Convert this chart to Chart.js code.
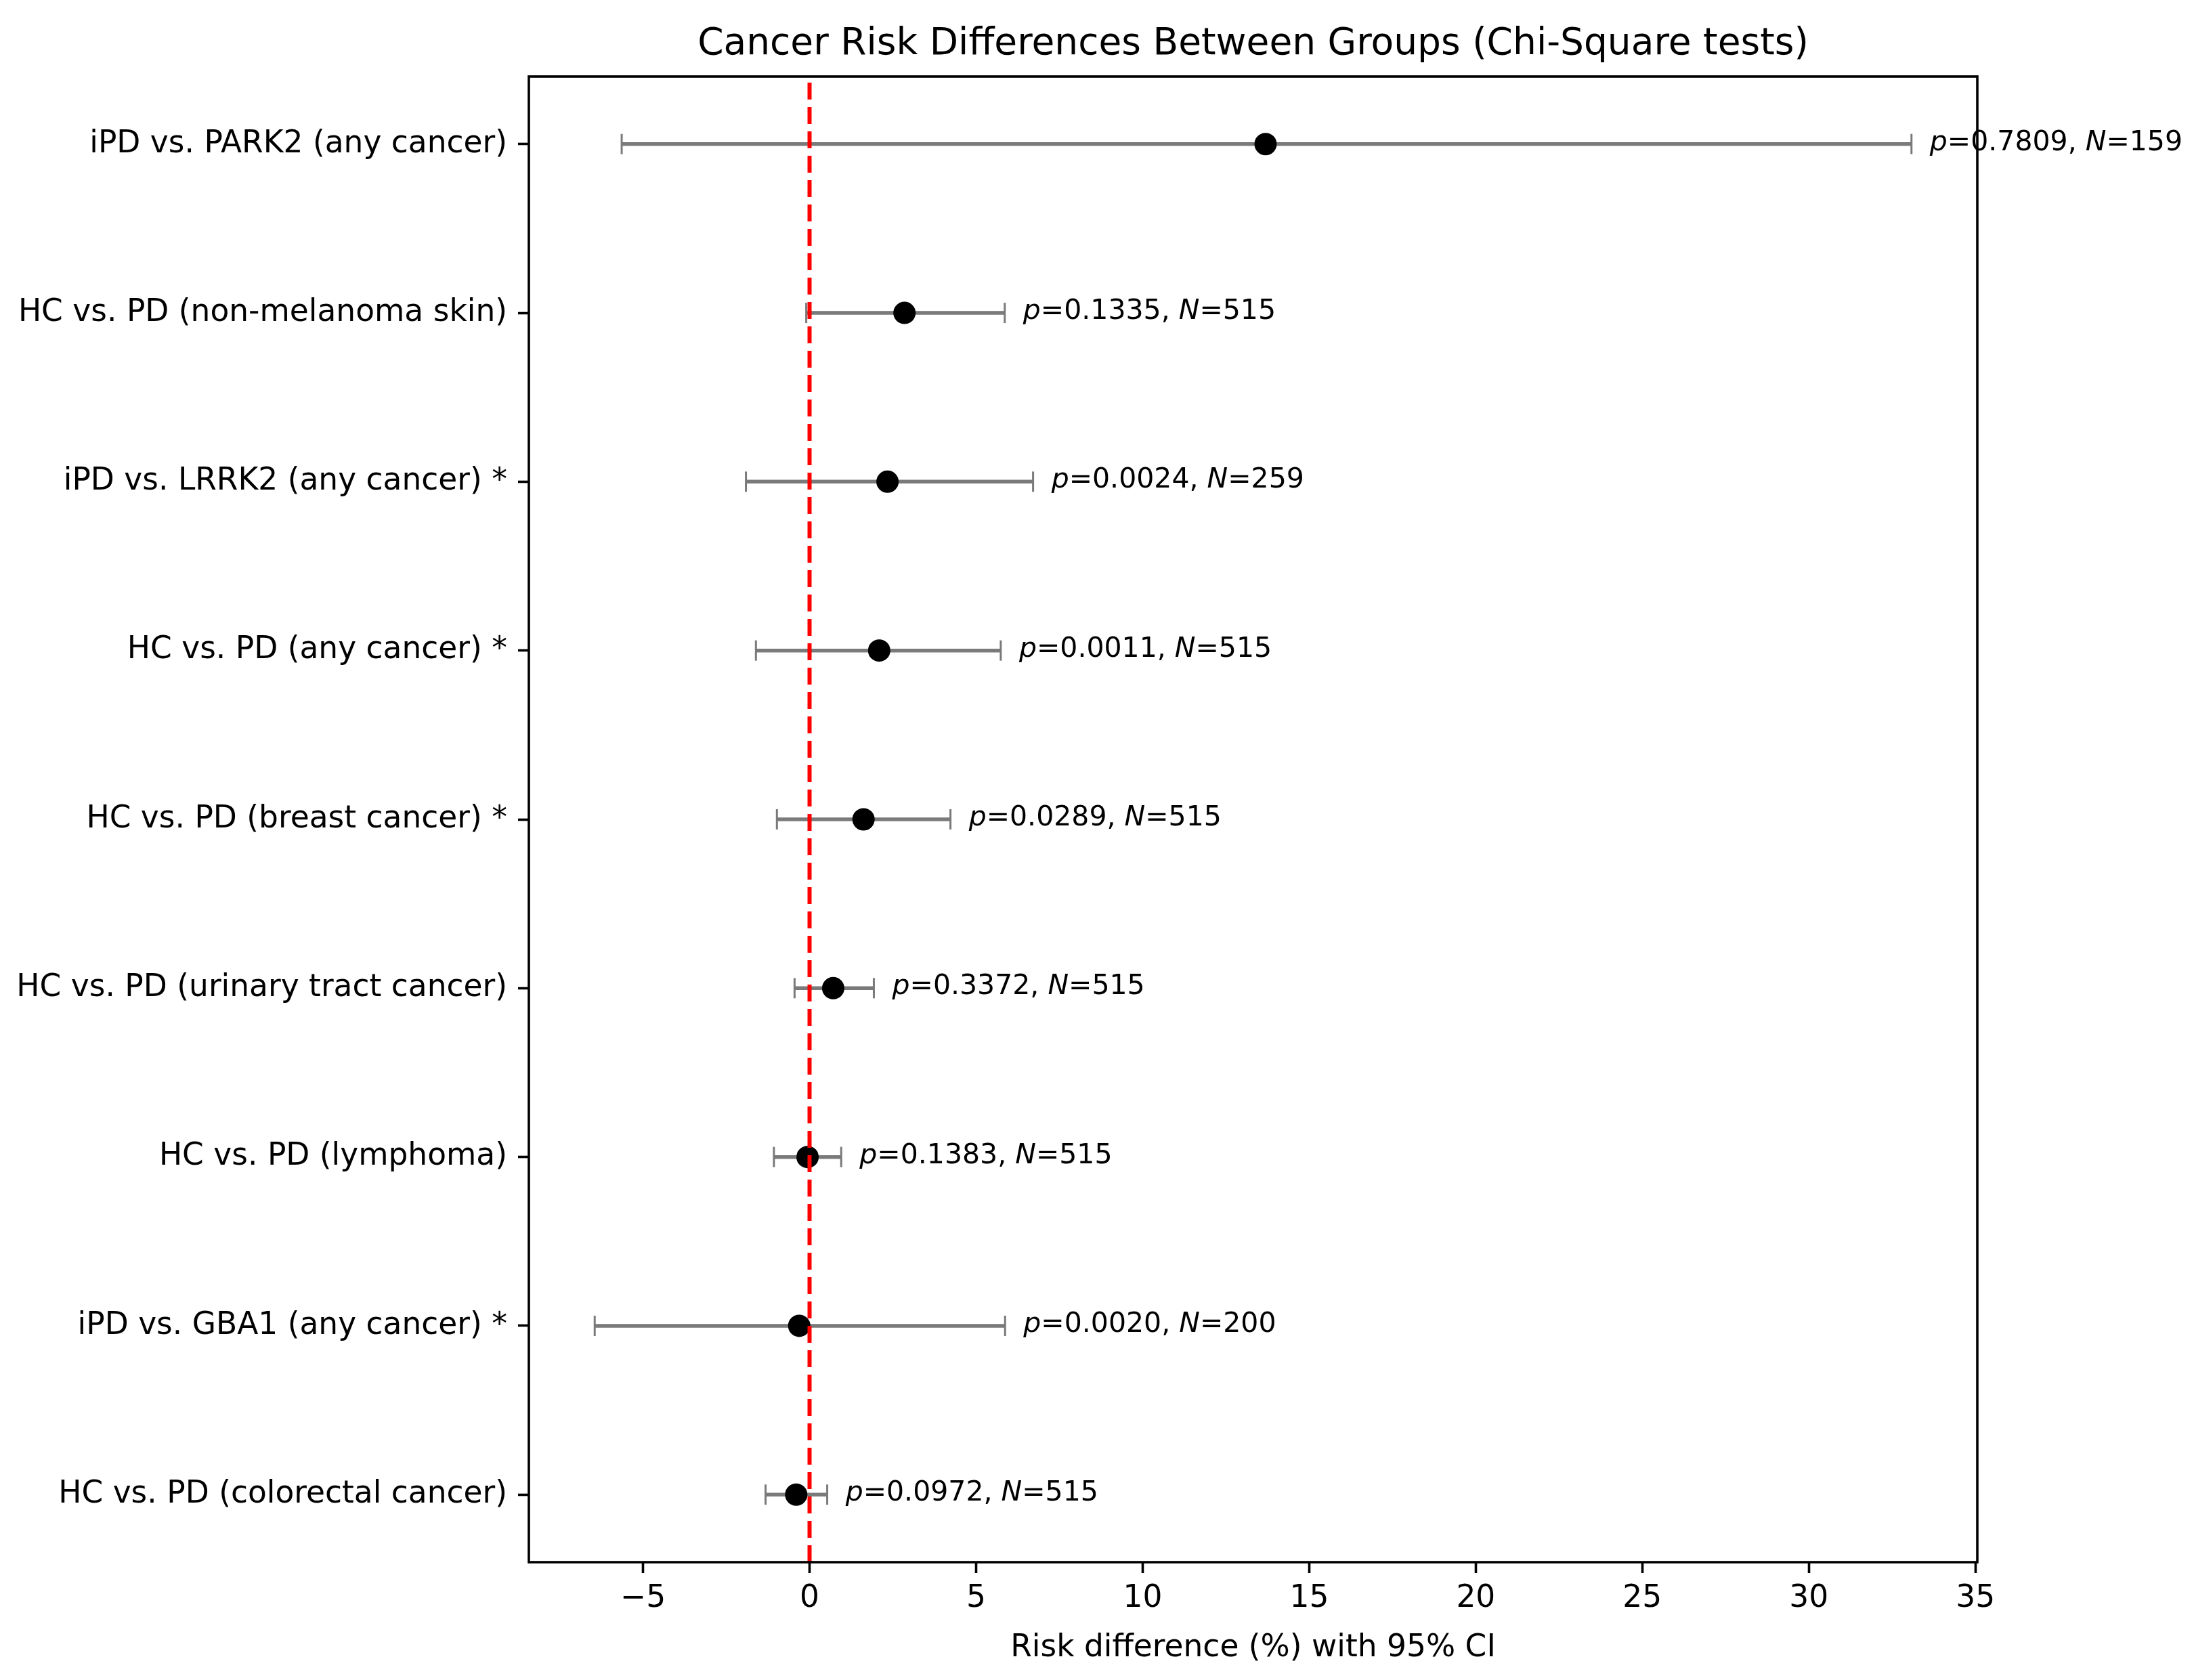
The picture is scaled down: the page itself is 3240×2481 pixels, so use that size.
<!DOCTYPE html>
<html>
<head>
<meta charset="utf-8">
<script src="https://cdn.jsdelivr.net/npm/chart.js@4.4.1/dist/chart.umd.min.js"></script>
<style>
  html, body { margin: 0; padding: 0; background: #ffffff; }
  #wrap { width: 3240px; height: 2481px; }
</style>
</head>
<body>
<div id="wrap"><canvas id="chart-forest" width="3240" height="2481"></canvas></div>
<script>
// comparisons, top to bottom
const labels = [
  'iPD vs. PARK2 (any cancer)',
  'HC vs. PD (non-melanoma skin)',
  'iPD vs. LRRK2 (any cancer) *',
  'HC vs. PD (any cancer) *',
  'HC vs. PD (breast cancer) *',
  'HC vs. PD (urinary tract cancer)',
  'HC vs. PD (lymphoma)',
  'iPD vs. GBA1 (any cancer) *',
  'HC vs. PD (colorectal cancer)',
];
const riskDiff = [13.69, 2.85, 2.34, 2.09, 1.62, 0.71, -0.06, -0.31, -0.40];
const ciLower = [-5.64, -0.10, -1.91, -1.61, -0.98, -0.45, -1.07, -6.45, -1.32];
const ciUpper = [33.08, 5.86, 6.71, 5.74, 4.23, 1.93, 0.95, 5.87, 0.53];
const pValues = ['0.7809', '0.1335', '0.0024', '0.0011', '0.0289', '0.3372', '0.1383', '0.0020', '0.0972'];
const sampleN = [159, 515, 259, 515, 515, 515, 515, 200, 515];

const xTicks = [-5, 0, 5, 10, 15, 20, 25, 30, 35];
const xTickLabels = ['\u22125', '0', '5', '10', '15', '20', '25', '30', '35'];
const refLine = 0;

const FONT = '"DejaVu Sans", sans-serif';

// matplotlib-like 5% margins around the CI range
const lo = Math.min(...ciLower);
const hi = Math.max(...ciUpper);
const xMargin = (hi - lo) * 0.05;

// one little line dataset per CI (caps are rotated 'line' points)
const ciDatasets = labels.map((name, i) => ({
  label: name,
  data: [{ x: ciLower[i], y: i }, { x: ciUpper[i], y: i }],
  showLine: true,
  borderColor: '#7a7a7a',
  borderWidth: 5.5,
  pointStyle: 'line',
  rotation: 90,
  pointRadius: 15,
  pointBorderColor: '#7a7a7a',
  pointBorderWidth: 3,
  order: 1,
}));

const forestExtras = {
  id: 'forestExtras',
  afterDatasetsDraw(chart) {
    const { ctx, chartArea, scales } = chart;
    const { left, right, top, bottom } = chartArea;

    // red dashed reference line (drawn bottom up, like axvline)
    const x0 = scales.x.getPixelForValue(refLine);
    ctx.save();
    ctx.strokeStyle = '#ff0000';
    ctx.lineWidth = 6;
    ctx.setLineDash([25, 11]);
    ctx.beginPath();
    ctx.moveTo(x0, bottom);
    ctx.lineTo(x0, top);
    ctx.stroke();
    ctx.restore();

    // spines
    ctx.save();
    ctx.strokeStyle = '#000000';
    ctx.lineWidth = 3.6;
    ctx.strokeRect(left, top, right - left, bottom - top);
    ctx.restore();

    // p / N annotations
    ctx.save();
    ctx.fillStyle = '#000000';
    ctx.textBaseline = 'alphabetic';
    ctx.textAlign = 'left';
    const normal = '41px ' + FONT;
    const italic = 'italic 41px ' + FONT;
    labels.forEach((_, i) => {
      let tx = scales.x.getPixelForValue(ciUpper[i] + 0.55);
      const ty = scales.y.getPixelForValue(i) + 9;
      const parts = [
        [italic, 'p'],
        [normal, '=' + pValues[i] + ', '],
        [italic, 'N'],
        [normal, '=' + sampleN[i]],
      ];
      parts.forEach(([f, s]) => {
        ctx.font = f;
        ctx.fillText(s, tx, ty);
        tx += ctx.measureText(s).width;
      });
    });
    ctx.restore();

    // title centred over the axes
    ctx.save();
    ctx.font = '55px ' + FONT;
    ctx.fillStyle = '#000000';
    ctx.textAlign = 'center';
    ctx.textBaseline = 'alphabetic';
    ctx.fillText('Cancer Risk Differences Between Groups (Chi-Square tests)', (left + right) / 2, 80);
    ctx.restore();
  },
};

const ctx = document.getElementById('chart-forest').getContext('2d');

new Chart(ctx, {
  type: 'scatter',
  data: {
    datasets: [
      {
        label: 'Risk difference',
        data: riskDiff.map((v, i) => ({ x: v, y: i })),
        backgroundColor: '#000000',
        borderColor: '#000000',
        pointRadius: 15,
        borderWidth: 3,
        order: 0,
      },
      ...ciDatasets,
    ],
  },
  options: {
    responsive: false,
    devicePixelRatio: 1,
    animation: false,
    events: [],
    layout: {
      padding: { top: 113, right: 320, bottom: 0, left: 0 },
    },
    plugins: {
      legend: { display: false },
      tooltip: { enabled: false },
      title: { display: false },
    },
    scales: {
      x: {
        type: 'linear',
        position: 'bottom',
        min: lo - xMargin,
        max: hi + xMargin,
        afterBuildTicks: (scale) => {
          scale.ticks = xTicks.map((v) => ({ value: v }));
        },
        afterFit: (scale) => {
          scale.height = 174;
        },
        ticks: {
          autoSkip: false,
          maxRotation: 0,
          padding: 11,
          color: '#000000',
          font: { family: FONT, size: 45.5 },
          callback: (v) => xTickLabels[xTicks.indexOf(v)],
        },
        grid: {
          drawOnChartArea: false,
          drawTicks: true,
          tickLength: 16,
          tickWidth: 3.6,
          tickColor: '#000000',
        },
        border: { display: false },
        title: {
          display: true,
          text: 'Risk difference (%) with 95% CI',
          color: '#000000',
          font: { family: FONT, size: 45.5 },
          padding: { top: 0, bottom: 20 },
        },
      },
      y: {
        type: 'linear',
        reverse: true,
        min: -0.4,
        max: 8.4,
        afterBuildTicks: (scale) => {
          scale.ticks = labels.map((_, i) => ({ value: i }));
        },
        afterFit: (scale) => {
          scale.width = 781;
        },
        ticks: {
          autoSkip: false,
          padding: 16,
          color: '#000000',
          font: { family: FONT, size: 45.5 },
          callback: (v) => labels[v],
        },
        grid: {
          drawOnChartArea: false,
          drawTicks: true,
          tickLength: 16,
          tickWidth: 3.6,
          tickColor: '#000000',
        },
        border: { display: false },
      },
    },
  },
  plugins: [forestExtras],
});
</script>
</body>
</html>
